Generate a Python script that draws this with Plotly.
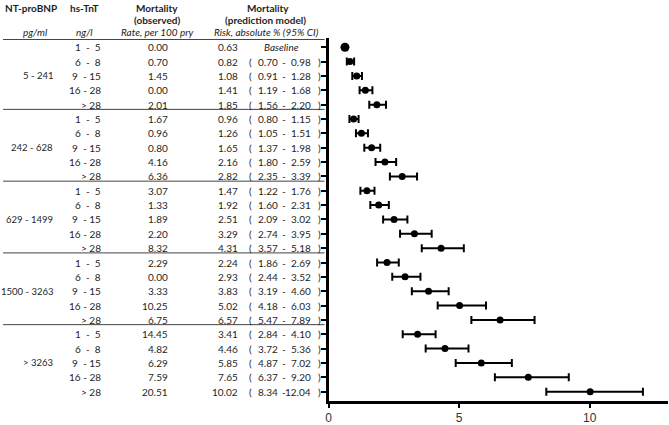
import plotly.graph_objects as go

# ---------------- data ----------------
ntprobnp_groups = ["5 - 241", "242 - 628", "629 - 1499", "1500 - 3263", "> 3263"]
tnt_categories = ["1\u00a0\u00a0-\u00a0\u00a05", "6\u00a0\u00a0-\u00a0\u00a08", "9\u00a0\u00a0-\u00a015", "16\u00a0-\u00a028", ">\u00a028"]
observed_rate = [0.00, 0.70, 1.45, 0.00, 2.01,
                 1.67, 0.96, 0.80, 4.16, 6.36,
                 3.07, 1.33, 1.89, 2.20, 8.32,
                 2.29, 0.00, 3.33, 10.25, 6.75,
                 14.45, 4.82, 6.29, 7.59, 20.51]
risk = [0.63, 0.82, 1.08, 1.41, 1.85,
        0.96, 1.26, 1.65, 2.16, 2.82,
        1.47, 1.92, 2.51, 3.29, 4.31,
        2.24, 2.93, 3.83, 5.02, 6.57,
        3.41, 4.46, 5.85, 7.65, 10.02]
ci_low = [None, 0.70, 0.91, 1.19, 1.56,
          0.80, 1.05, 1.37, 1.80, 2.35,
          1.22, 1.60, 2.09, 2.74, 3.57,
          1.86, 2.44, 3.19, 4.18, 5.47,
          2.84, 3.72, 4.87, 6.37, 8.34]
ci_high = [None, 0.98, 1.28, 1.68, 2.20,
           1.15, 1.51, 1.98, 2.59, 3.39,
           1.76, 2.31, 3.02, 3.95, 5.18,
           2.69, 3.52, 4.60, 6.03, 7.89,
           4.10, 5.36, 7.02, 9.20, 12.04]
x_ticks = [0, 5, 10]

n = len(risk)
rows = list(range(n))

# ---------------- layout constants ----------------
W, H = 669, 425
M_L, M_R, M_T, M_B = 0, 1, 38, 22
PLOT_H = H - M_T - M_B
AXIS_X = 327  # px where forest axis starts
plot_w = W - M_L - M_R
FONT = "Lato, 'Open Sans', sans-serif"
TXT = "#1e1e1e"

def py(p):
    """pixel y (from top) -> paper y"""
    return (H - M_B - p) / PLOT_H

fig = go.Figure()

# baseline (no CI)
fig.add_trace(go.Scatter(
    x=[risk[0]], y=[rows[0]], mode="markers",
    marker=dict(color="black", size=9, symbol="circle"),
    xaxis="x", yaxis="y", showlegend=False, hoverinfo="skip"))

# others with CI
xs = risk[1:]
ys = rows[1:]
plus = [h - r for h, r in zip(ci_high[1:], xs)]
minus = [r - l for r, l in zip(xs, ci_low[1:])]
fig.add_trace(go.Scatter(
    x=xs, y=ys, mode="markers",
    marker=dict(color="black", size=7),
    error_x=dict(type="data", symmetric=False, array=plus, arrayminus=minus,
                 color="black", thickness=2, width=4),
    xaxis="x", yaxis="y", showlegend=False, hoverinfo="skip"))

ann = []
def add(x, y, text, anchor="center", bold=False, italic=False, yref="y", size=10):
    t = text
    if bold:
        t = f"<b>{t}</b>"
    if italic:
        t = f"<i>{t}</i>"
    ann.append(dict(x=x, y=y, xref="x2", yref=yref, text=t, showarrow=False,
                    xanchor=anchor, yanchor="middle", borderpad=0,
                    font=dict(family=FONT, size=size, color=TXT)))

# headers
add(28, py(8), "NT-proBNP", bold=True, yref="paper")
add(82, py(8), "hs-TnT", bold=True, yref="paper")
add(155, py(8), "Mortality", bold=True, yref="paper")
add(155, py(19.5), "(observed)", bold=True, yref="paper")
add(266, py(8), "Mortality", bold=True, yref="paper")
add(264, py(19.5), "(prediction model)", bold=True, yref="paper")
add(33, py(32), "pg/ml", italic=True, yref="paper")
add(82, py(32), "ng/l", italic=True, yref="paper")
add(155, py(32), "Rate, per 100 pry", italic=True, yref="paper")
add(265, py(32), "Risk, absolute % (95% CI)", italic=True, yref="paper")

ng = len(ntprobnp_groups)
nt = len(tnt_categories)
for g in range(ng):
    add(51, rows[g * nt + 2], ntprobnp_groups[g], anchor="right", size=9.5)
    for k in range(nt):
        i = g * nt + k
        add(99, rows[i], tnt_categories[k], anchor="right")
        add(167, rows[i], f"{observed_rate[i]:.2f}", anchor="right")
        add(237, rows[i], f"{risk[i]:.2f}", anchor="right")
        if ci_low[i] is None:
            add(280, rows[i], "Baseline", italic=True)
        else:
            add(249, rows[i], "(")
            add(277.5, rows[i], f"{ci_low[i]:.2f}", anchor="right")
            add(282, rows[i], "-")
            add(310.5, rows[i], f"{ci_high[i]:.2f}", anchor="right")
            add(317.5, rows[i], ")")

shapes = [dict(type="line", xref="x2", yref="paper", x0=0, x1=323,
               y0=py(39.5), y1=py(39.5), line=dict(color="#444", width=1))]
for g in range(ng - 1):
    yy = rows[(g + 1) * nt - 1] + 0.33
    shapes.append(dict(type="line", xref="x2", yref="y", x0=0, x1=323,
                       y0=yy, y1=yy, line=dict(color="#444", width=1)))

fig.update_layout(
    width=W, height=H,
    margin=dict(l=M_L, r=M_R, t=M_T, b=M_B, pad=0),
    paper_bgcolor="white", plot_bgcolor="white",
    xaxis=dict(domain=[AXIS_X / plot_w, 1], range=[0, 13], tickvals=x_ticks,
               ticktext=[str(v) for v in x_ticks],
               showline=True, linewidth=3, linecolor="black",
               ticks="outside", ticklen=4, tickwidth=2, tickcolor="black",
               showgrid=False, zeroline=False, anchor="y",
               tickfont=dict(family="'Liberation Sans Narrow', 'Liberation Sans', sans-serif",
                             size=12, color="#333")),
    xaxis2=dict(domain=[0, AXIS_X / plot_w], range=[0, AXIS_X], visible=False,
                anchor="y", fixedrange=True),
    yaxis=dict(range=[24.65, -0.645], tickvals=rows, showticklabels=False,
               showline=True, linewidth=3, linecolor="black",
               ticks="outside", ticklen=5, tickwidth=2, tickcolor="black",
               showgrid=False, zeroline=False, anchor="x"),
    annotations=ann, shapes=shapes,
)

fig.write_html("out.html",
               config={"displayModeBar": False},
               post_script="document.body.style.margin='0';document.body.style.overflow='hidden';")
